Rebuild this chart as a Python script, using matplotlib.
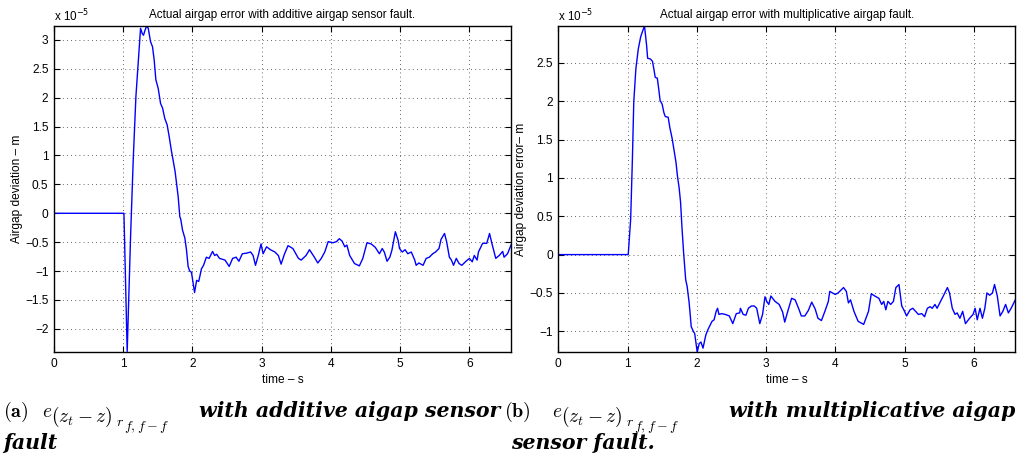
import numpy as np
import matplotlib.pyplot as plt

# airgap error with additive sensor fault: time [s], error [x 1e-5 m]
t_add = [0, 1.01, 1.057, 1.106, 1.144, 1.183, 1.231, 1.25, 1.274, 1.293, 1.31, 1.337,
         1.361, 1.394, 1.423, 1.447, 1.471, 1.505, 1.539, 1.568, 1.60, 1.634, 1.663,
         1.697, 1.72, 1.749, 1.77, 1.793, 1.817, 1.83, 1.856, 1.89, 1.913, 1.937, 1.96,
         1.985, 2.03, 2.06, 2.09, 2.13, 2.16, 2.20, 2.24, 2.29, 2.32, 2.35, 2.39, 2.47,
         2.53, 2.58, 2.63, 2.67, 2.72, 2.78, 2.84, 2.875, 2.91, 2.95, 2.99, 3.02, 3.07,
         3.125, 3.19, 3.24, 3.28, 3.33, 3.38, 3.45, 3.53, 3.57, 3.64, 3.69, 3.76, 3.81,
         3.86, 3.91, 3.96, 4.03, 4.08, 4.12, 4.16, 4.20, 4.23, 4.27, 4.34, 4.41, 4.46,
         4.52, 4.58, 4.64, 4.70, 4.74, 4.77, 4.81, 4.85, 4.88, 4.93, 4.97, 4.99, 5.03,
         5.07, 5.11, 5.16, 5.21, 5.23, 5.27, 5.33, 5.375, 5.42, 5.47, 5.51, 5.56, 5.59,
         5.64, 5.67, 5.71, 5.74, 5.77, 5.81, 5.85, 5.89, 5.95, 6.00, 6.04, 6.07, 6.11,
         6.13, 6.19, 6.25, 6.29, 6.33, 6.38, 6.43, 6.48, 6.50, 6.55, 6.60]
e_add = [0, 0, -2.39, -0.40, 0.92, 2.02, 2.88, 3.2, 3.11, 3.08, 3.15, 3.24,
         3.2, 2.97, 2.88, 2.65, 2.31, 2.16, 1.90, 1.82, 1.64, 1.53, 1.33,
         1.07, 0.92, 0.72, 0.52, 0.29, -0.06, -0.10, -0.29, -0.43, -0.63, -0.92, -1.0,
         -1.02, -1.37, -1.16, -1.18, -0.96, -0.90, -0.76, -0.78, -0.66, -0.73, -0.71, -0.78, -0.81,
         -0.92, -0.78, -0.76, -0.83, -0.70, -0.69, -0.67, -0.73, -0.90, -0.73, -0.53, -0.70, -0.58,
         -0.63, -0.67, -0.73, -0.88, -0.70, -0.56, -0.61, -0.78, -0.81, -0.73, -0.63, -0.76, -0.86,
         -0.78, -0.67, -0.49, -0.51, -0.49, -0.44, -0.48, -0.58, -0.55, -0.73, -0.87, -0.91, -0.78,
         -0.51, -0.53, -0.59, -0.70, -0.61, -0.67, -0.83, -0.76, -0.64, -0.32, -0.47, -0.61, -0.67,
         -0.63, -0.70, -0.67, -0.81, -0.90, -0.86, -0.90, -0.78, -0.76, -0.70, -0.67, -0.61, -0.45,
         -0.35, -0.49, -0.76, -0.81, -0.90, -0.78, -0.87, -0.90, -0.83, -0.78, -0.84, -0.73, -0.81,
         -0.67, -0.52, -0.52, -0.35, -0.55, -0.78, -0.73, -0.66, -0.76, -0.70, -0.55]

# airgap error with multiplicative sensor fault
t_mul = [0, 1.01, 1.045, 1.07, 1.09, 1.12, 1.155, 1.19, 1.22, 1.245, 1.275, 1.29,
         1.33, 1.36, 1.38, 1.40, 1.43, 1.453, 1.47, 1.50, 1.525, 1.545, 1.587, 1.61,
         1.645, 1.674, 1.70, 1.72, 1.745, 1.766, 1.785, 1.81, 1.84, 1.86, 1.89, 1.92,
         1.95, 1.97, 2.006, 2.035, 2.06, 2.09, 2.13, 2.16, 2.22, 2.25, 2.28, 2.30, 2.32,
         2.36, 2.41, 2.47, 2.52, 2.57, 2.62, 2.63, 2.67, 2.71, 2.745, 2.79, 2.83, 2.865,
         2.91, 2.95, 2.985, 3.01, 3.04, 3.07, 3.13, 3.19, 3.24, 3.27, 3.32, 3.37, 3.42,
         3.47, 3.51, 3.56, 3.61, 3.66, 3.71, 3.75, 3.80, 3.85, 3.90, 3.92, 4.00, 4.04,
         4.12, 4.16, 4.19, 4.22, 4.27, 4.33, 4.41, 4.48, 4.52, 4.57, 4.63, 4.67, 4.70,
         4.73, 4.76, 4.80, 4.84, 4.875, 4.92, 4.96, 4.99, 5.03, 5.08, 5.12, 5.16, 5.20,
         5.25, 5.29, 5.33, 5.37, 5.40, 5.44, 5.47, 5.51, 5.56, 5.62, 5.65, 5.69, 5.73,
         5.76, 5.80, 5.84, 5.88, 5.94, 5.99, 6.02, 6.05, 6.09, 6.125, 6.16, 6.19, 6.23,
         6.27, 6.30, 6.34, 6.38, 6.42, 6.46, 6.50, 6.54, 6.60]
e_mul = [0, 0, 0.46, 1.24, 1.99, 2.42, 2.68, 2.84, 2.92, 2.98, 2.73, 2.56,
         2.55, 2.52, 2.42, 2.31, 2.30, 2.14, 2.01, 1.96, 1.85, 1.80, 1.79, 1.66,
         1.51, 1.35, 1.20, 1.03, 0.87, 0.68, 0.37, 0.02, -0.33, -0.41, -0.63, -0.94,
         -1.0, -1.03, -1.27, -1.16, -1.14, -1.22, -1.05, -0.98, -0.87, -0.85, -0.74, -0.70, -0.78,
         -0.77, -0.78, -0.80, -0.90, -0.77, -0.76, -0.70, -0.78, -0.79, -0.70, -0.67, -0.67, -0.70,
         -0.90, -0.78, -0.55, -0.61, -0.65, -0.54, -0.61, -0.65, -0.75, -0.88, -0.72, -0.57, -0.59,
         -0.70, -0.80, -0.80, -0.73, -0.62, -0.71, -0.83, -0.86, -0.74, -0.61, -0.48, -0.52, -0.50,
         -0.43, -0.48, -0.63, -0.59, -0.74, -0.87, -0.91, -0.74, -0.51, -0.54, -0.57, -0.65, -0.61,
         -0.72, -0.61, -0.65, -0.61, -0.43, -0.39, -0.67, -0.72, -0.80, -0.72, -0.70, -0.74, -0.78,
         -0.77, -0.81, -0.70, -0.68, -0.70, -0.65, -0.70, -0.63, -0.54, -0.43, -0.50, -0.70, -0.78,
         -0.76, -0.83, -0.74, -0.90, -0.83, -0.78, -0.70, -0.85, -0.70, -0.83, -0.70, -0.50, -0.53,
         -0.50, -0.39, -0.54, -0.80, -0.74, -0.65, -0.76, -0.70, -0.59]

W, H = 1018, 457
fig = plt.figure(figsize=(W / 100, H / 100), dpi=100)
plt.rcParams['font.family'] = 'Liberation Sans'

panels = [
    dict(t=t_add, e=e_add, left=54, ylim=(-2.4, 3.24), yticks=np.arange(-2, 3.01, 0.5),
         title='Actual airgap error with additive airgap sensor fault.',
         ylabel='Airgap deviation \u2013 m'),
    dict(t=t_mul, e=e_mul, left=558.3, ylim=(-1.27, 2.98), yticks=np.arange(-1, 2.51, 0.5),
         title='Actual airgap error with multiplicative airgap fault.',
         ylabel='Airgap deviation error\u2013 m'),
]

for p in panels:
    ax = fig.add_axes([p['left'] / W, (H - 352) / H, 457 / W, 326 / H])
    ax.plot(p['t'], p['e'], color='#0000ff', lw=1.0)
    ax.set_xlim(0, 6.6)
    ax.set_ylim(*p['ylim'])
    ax.set_xticks(range(7))
    ax.set_yticks(p['yticks'])
    ax.set_yticklabels([('%g' % v).replace('-', '\u2212') for v in p['yticks']])
    ax.tick_params(direction='in', top=True, right=True, length=4, width=0.8,
                   labelsize=8.6, pad=4)
    ax.grid(True, linestyle=(0, (1, 4)), color='#333333', lw=0.6)
    for s in ax.spines.values():
        s.set_linewidth(1.0)
    ax.set_title(p['title'], fontsize=8.4, pad=6)
    ax.set_xlabel('time \u2013 s', fontsize=8.6, labelpad=3)
    ax.set_ylabel(p['ylabel'], fontsize=8.6)
    ax.yaxis.set_label_coords(-0.068, 0.5)
    ax.text(0.0, 1.006, r'x 10$^{-5}$', transform=ax.transAxes, fontsize=8.4,
            ha='left', va='bottom')

# sub-figure captions
cap = dict(family='DejaVu Serif', weight='bold', style='italic', fontsize=14.8,
           va='baseline')


def px(x, y):
    return x / W, 1 - y / H


def caption_symbol(x0):
    # e_{(z_t - z)_{r_{f,f-f}}} built piecewise so the nested subscripts stay legible
    fig.text(*px(x0, 417), r'$e$', math_fontfamily='cm', fontsize=14, va='baseline')
    fig.text(*px(x0 + 9, 422), r'$(z_t - z)$', math_fontfamily='cm', fontsize=14,
             va='baseline')
    fig.text(*px(x0 + 74, 426), r'$r$', math_fontfamily='cm', fontsize=10,
             va='baseline')
    fig.text(*px(x0 + 82, 430), r'$f,f-f$', math_fontfamily='cm', fontsize=10,
             va='baseline')


fig.text(*px(3, 417), r'$\mathbf{(a)}$', math_fontfamily='cm', fontsize=14.5, va='baseline')
caption_symbol(42)
fig.text(*px(199, 417), 'with additive aigap sensor', **cap)
fig.text(*px(3, 449), 'fault', **cap)

fig.text(*px(504, 417), r'$\mathbf{(b)}$', math_fontfamily='cm', fontsize=14.5, va='baseline')
caption_symbol(552)
fig.text(*px(1015, 417), 'with multiplicative aigap', ha='right', **cap)
fig.text(*px(511, 449), 'sensor fault.', **cap)

fig.savefig('out.png', dpi=100)
